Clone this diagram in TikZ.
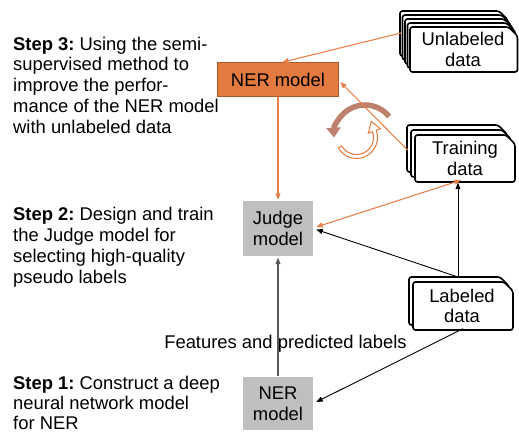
\documentclass[tikz,border=0pt]{standalone}
\usepackage{fontspec}
\setmainfont{Liberation Sans}
\usetikzlibrary{arrows.meta}
\definecolor{orline}{RGB}{232,128,74}
\definecolor{orfill}{RGB}{227,122,64}
\definecolor{ordraw}{RGB}{170,88,45}
\definecolor{boxgray}{RGB}{191,191,191}
\definecolor{brownarc}{RGB}{188,128,108}
\definecolor{hollowor}{RGB}{230,120,60}
\newcommand\docbox[4]{\draw[docline] (#1,#4) -- (#1,#2) -- ({#3-9},#2) -- (#3,{#2+9}) -- (#3,#4) -- cycle;}
\frenchspacing
\begin{document}
\begin{tikzpicture}[x=1pt,y=-1pt,
  font=\fontsize{18.4}{20.8}\selectfont\frenchspacing,
  docline/.style={draw=black,fill=white,line width=1.6pt,rounded corners=2.5pt},
  doctext/.style={inner sep=0pt,align=center,minimum width=100pt,minimum height=45pt},
  steptext/.style={anchor=north west,inner sep=0pt,align=left},
  nerbox/.style={draw=ordraw,fill=orfill,line width=1.5pt,minimum width=121pt,minimum height=34pt,inner sep=0pt},
  graybox/.style={fill=boxgray,minimum width=70pt,inner sep=0pt,align=center},
  tip/.style={-{Triangle[length=6.5pt,width=5pt]}},
  oarrow/.style={tip,draw=orline,line width=1.1pt},
  karrow/.style={tip,draw=black,line width=0.9pt},
  garrow/.style={tip,draw=black!65,line width=1.1pt}]
\useasboundingbox (0,0) rectangle (519,434);

% step texts
\node[steptext] (s3) at (13,36.5) {\textbf{Step 3:} Using the semi-\\supervised method to\\improve the perfor-\\mance of the NER model\\with unlabeled data};
\node[steptext] (s2) at (13,207.3) {\textbf{Step 2:} Design and train\\the Judge model for\\selecting high-quality\\pseudo labels};
\node[steptext,font=\fontsize{18.4}{20.2}\selectfont\frenchspacing] (s1) at (13,376) {\textbf{Step 1:} Construct a deep\\neural network model\\for NER};

% document stacks
\foreach \k in {4,3,2,1} {\docbox{410-2.5*\k}{27-4*\k}{518-2.5*\k}{72-4*\k}}
\docbox{410}{27}{517.5}{72}
\foreach \k in {2,1} {\docbox{415-4*\k}{135-5*\k}{515-4*\k}{182-5*\k}}
\docbox{415}{135}{515}{182}
\docbox{409}{277}{509}{325}
\docbox{413}{282}{513}{330}

\node[doctext] (unl) at (463,49.5) {Unlabeled\\data};
\node[doctext] (train) at (465,158.5) {Training\\data};
\node[doctext] (lab) at (462,306) {Labeled\\data};

% model boxes
\node[nerbox] (ner3) at (278,79.5) {NER model};
\node[graybox,minimum height=55pt] (judge) at (278,228.5) {Judge\\model};
\node[graybox,minimum height=53pt] (ner1) at (278,403.5) {NER\\model};

\node[inner sep=0pt] (feat) at (285.5,343.6) {Features and predicted labels};

% cycle arrows
\coordinate (bc) at (365,136);
\draw[brownarc,line width=5.5pt,-{Triangle[length=10pt,width=14pt]}]
  ([shift={(-39:31)}]bc) arc[start angle=-39,end angle=-183,radius=31];
\coordinate (hc) at (356.5,137.5);
\draw[hollowor,fill=white,line width=1pt,line join=miter]
  ([shift={(150:21)}]hc) arc[start angle=150,end angle=-20,radius=21]
  -- ([shift={(-20:25.5)}]hc) -- (371.3,121.5) -- ([shift={(-20:12.5)}]hc)
  -- ([shift={(-20:17)}]hc) arc[start angle=-20,end angle=150,radius=17] -- cycle;

% connectors
\coordinate (unlL) at (401,33);
\coordinate (trainL) at (407.5,150);
\coordinate (labT) at (458,277);
\draw[oarrow] (unlL) -- ([xshift=4pt,yshift=-0.5pt]ner3.north);
\draw[oarrow] (trainL) -- ([xshift=1pt,yshift=-2.5pt]ner3.east);
\draw[oarrow] (ner3.south) -- ([yshift=1pt]judge.north);
\draw[oarrow,{Triangle[length=6.5pt,width=5pt]}-{Triangle[length=6.5pt,width=5pt]}]
  ([xshift=3pt,yshift=1.5pt]judge.east) -- ([xshift=-4pt,yshift=1pt]train.south);
\draw[karrow] (labT) -- ([xshift=-7pt,yshift=-1.5pt]train.south);
\draw[karrow] (labT) -- ([xshift=3pt,yshift=-1pt]judge.east);
\draw[karrow] ([xshift=1pt]lab.south) -- ([xshift=3pt,yshift=1.5pt]ner1.east);
\draw[garrow] ([yshift=1pt]ner1.north) -- ([yshift=-1.5pt]judge.south);
\end{tikzpicture}
\end{document}
